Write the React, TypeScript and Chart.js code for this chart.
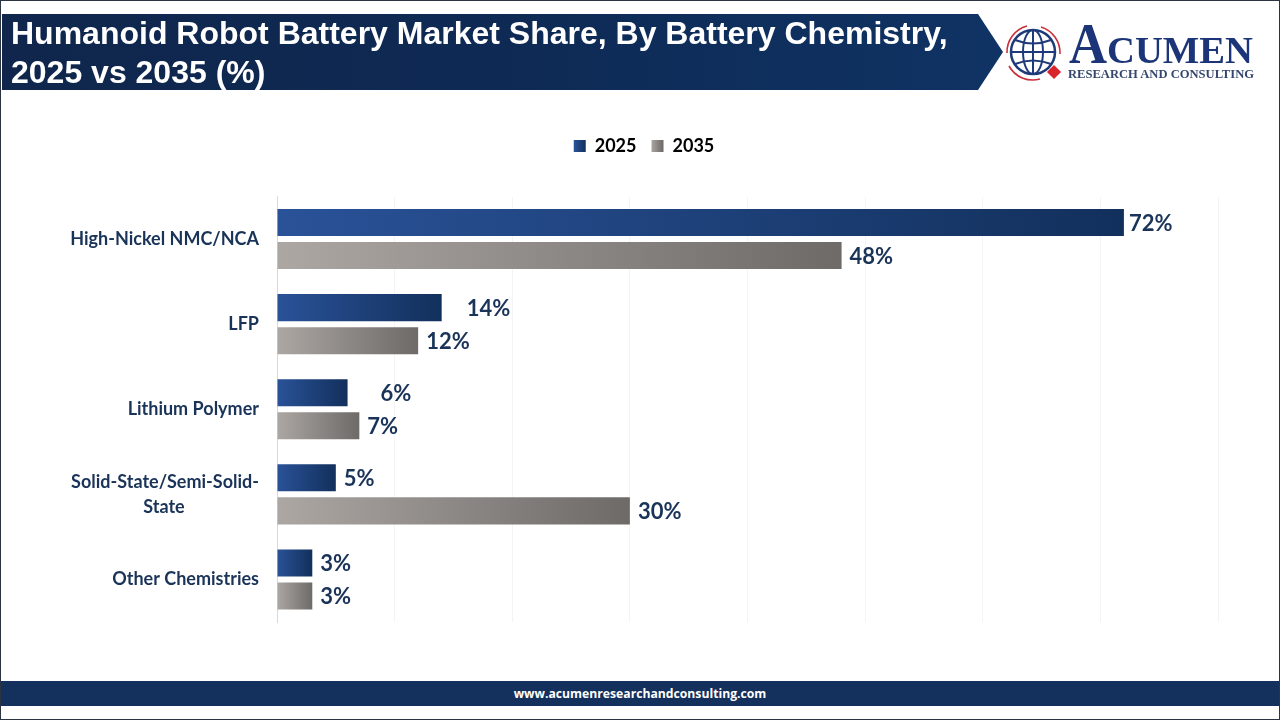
import React, { useEffect, useRef } from "react";
import Chart from "chart.js/auto";

// the second line of the wrapped label is centred under the first in the original, hence the nbsp padding
const categories = [
  "High-Nickel NMC/NCA",
  "LFP",
  "Lithium Polymer",
  ["Solid-State/Semi-Solid-", "State" + "\u00a0".repeat(17)],
  "Other Chemistries",
];
const share2025 = [72, 14, 6, 5, 3];
const share2035 = [48, 12, 7, 30, 3];

// the value labels don't sit at a constant distance from the bars in the original
const labelGap2025 = [5, 25, 33, 8, 8];
const labelGap2035 = [8, 8, 8, 8, 8];

const NAVY = "#1a3358";

const barGradient = (ctx: any, from: string, to: string) => {
  const { chart, raw } = ctx;
  const x = chart.scales.x;
  if (typeof raw !== "number") return from;
  const g = chart.ctx.createLinearGradient(x.getPixelForValue(0), 0, x.getPixelForValue(raw), 0);
  g.addColorStop(0, from);
  g.addColorStop(1, to);
  return g;
};

const legendGradient = (chart: any, from: string, to: string, index: number) => {
  const start = index === 0 ? 574 : 651;
  const g = chart.ctx.createLinearGradient(start, 0, start + 12, 0);
  g.addColorStop(0, from);
  g.addColorStop(1, to);
  return g;
};

const valueLabels = {
  id: "valueLabels",
  afterDatasetsDraw(chart: any) {
    const { ctx } = chart;
    ctx.save();
    ctx.font = "bold 22px Lato";
    ctx.fillStyle = NAVY;
    ctx.textBaseline = "middle";
    chart.data.datasets.forEach((ds: any, i: number) => {
      const gaps = i === 0 ? labelGap2025 : labelGap2035;
      chart.getDatasetMeta(i).data.forEach((bar: any, j: number) => {
        ctx.fillText(ds.data[j] + "%", bar.x + gaps[j], bar.y + 1);
      });
    });
    ctx.restore();
  },
};

const Logo = () => (
  <svg width="262" height="90" viewBox="0 0 262 90" style={{ position: "absolute", left: 1000, top: 10 }}>
    <g fill="none" stroke="#1f3a7a" strokeWidth="2">
      <circle cx="33" cy="42" r="22" strokeWidth="2.5" />
      <ellipse cx="33" cy="42" rx="10" ry="22" />
      <line x1="33" y1="20" x2="33" y2="64" />
      <line x1="11" y1="42" x2="55" y2="42" />
      <path d="M15 30 Q33 37 51 30" />
      <path d="M15 54 Q33 47 51 54" />
    </g>
    <g fill="none" stroke="#c8303a" strokeWidth="1.6">
      <path d="M7 43 A27 27 0 0 1 27 16" />
      <path d="M41 17 A27 27 0 0 1 60 44" />
      <path d="M9 56 A27 27 0 0 0 40 69" />
    </g>
    <rect x="49" y="57" width="10" height="10" fill="#d8262c" transform="rotate(45 54 62)" />
    <text x="69" y="53" fontFamily="Liberation Serif" fontWeight="bold" fontSize="58" fill="#1c3578" textLength="38" lengthAdjust="spacingAndGlyphs">A</text>
    <text x="107" y="53" fontFamily="Liberation Serif" fontWeight="bold" fontSize="38" fill="#1c3578" textLength="146" lengthAdjust="spacingAndGlyphs">CUMEN</text>
    <text x="68" y="68" fontFamily="Liberation Serif" fontWeight="bold" fontSize="13" fill="#34466e" textLength="186" lengthAdjust="spacingAndGlyphs">RESEARCH AND CONSULTING</text>
  </svg>
);

export default function App() {
  const canvasRef = useRef<HTMLCanvasElement | null>(null);

  useEffect(() => {
    document.body.style.margin = "0";
    if (!canvasRef.current) return;

    const chart = new Chart(canvasRef.current, {
      type: "bar",
      data: {
        labels: categories as any,
        datasets: [
          {
            label: "2025",
            data: share2025,
            backgroundColor: (c: any) => barGradient(c, "#2a5298", "#12305c"),
          },
          {
            label: "2035",
            data: share2035,
            backgroundColor: (c: any) => barGradient(c, "#aca7a3", "#6e6a68"),
          },
        ],
      },
      options: {
        indexAxis: "y",
        responsive: false,
        animation: false,
        layout: { padding: { left: 70, right: 62, top: 122, bottom: 98 } },
        datasets: { bar: { categoryPercentage: 66 / 85, barPercentage: 27 / 33 } },
        plugins: {
          tooltip: { enabled: false },
          legend: {
            position: "top",
            labels: {
              boxWidth: 12,
              boxHeight: 12,
              padding: 15,
              color: "#111111",
              font: { family: "Lato", weight: "bold", size: 18 },
              generateLabels: (c: any) => [
                { text: "2025", fillStyle: legendGradient(c, "#2a5298", "#12305c", 0), lineWidth: 0, datasetIndex: 0 },
                { text: "2035", fillStyle: legendGradient(c, "#aca7a3", "#6e6a68", 1), lineWidth: 0, datasetIndex: 1 },
              ],
            },
          },
        },
        scales: {
          x: {
            position: "top",
            min: 0,
            max: 80,
            afterFit: (s: any) => { s.height = 31.5; },
            ticks: { display: false, stepSize: 10 },
            border: { display: false },
            grid: { color: "#f4f4f4", drawTicks: false },
          },
          y: {
            afterFit: (s: any) => { s.width = 207; },
            border: { color: "#d9d9d9" },
            grid: { display: false, drawTicks: false },
            ticks: {
              padding: 18,
              color: NAVY,
              font: { family: "Lato", weight: "bold", size: 18, lineHeight: 1.4 },
            },
          },
        },
      } as any,
      plugins: [valueLabels],
    });

    return () => chart.destroy();
  }, []);

  return (
    <div style={{ position: "relative", width: 1280, height: 720, overflow: "hidden", background: "#fff" }}>
      <canvas ref={canvasRef} width={1280} height={720} style={{ display: "block" }} />
      <div
        style={{
          position: "absolute", left: 2, top: 14, width: 1001, height: 76,
          background: "linear-gradient(90deg, #10264c 0%, #0e2a54 50%, #0f3364 100%)",
          clipPath: "polygon(0 0, 976px 0, 100% 50%, 976px 100%, 0 100%)",
        }}
      />
      <div
        style={{
          position: "absolute", left: 11, top: 14, width: 985, color: "#fff",
          font: "bold 32px/39px 'Liberation Sans'",
        }}
      >
        Humanoid Robot Battery Market Share, By Battery Chemistry,
        <br />
        2025 vs 2035 (%)
      </div>
      <Logo />
      <div
        style={{
          position: "absolute", left: 1, top: 681, width: 1278, height: 25, background: "#14305c",
          color: "#fff", textAlign: "center", font: "bold 12.2px/25px 'Open Sans'",
        }}
      >
        www.acumenresearchandconsulting.com
      </div>
      <div style={{ position: "absolute", inset: 0, border: "1px solid #2b3440", boxSizing: "border-box", pointerEvents: "none" }} />
    </div>
  );
}
